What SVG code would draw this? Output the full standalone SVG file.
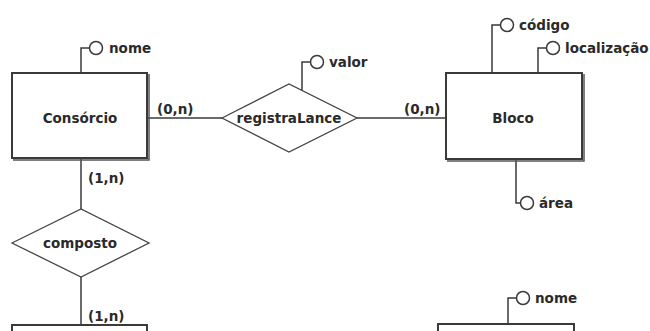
<svg xmlns="http://www.w3.org/2000/svg" width="650" height="331" viewBox="0 0 650 331">
<style>
.ent{fill:#fff;stroke:#3a3a3a;stroke-width:2}
.sh{fill:none;stroke:#555;stroke-width:1.5}
.rel{fill:#fff;stroke:#444;stroke-width:1.3}
.ln{fill:none;stroke:#3a3a3a;stroke-width:1.5}
.at{fill:#fff;stroke:#3a3a3a;stroke-width:1.5}
text{font-family:"DejaVu Sans",Verdana,sans-serif;font-weight:bold;font-size:13.5px;fill:#2a2a2a}
.c{text-anchor:middle}
</style>
<rect width="650" height="331" fill="#fff"/>
<g id="connectors">
<line class="ln" x1="147" y1="118" x2="222" y2="118"/>
<line class="ln" x1="357" y1="118" x2="446" y2="118"/>
<line class="ln" x1="81" y1="158" x2="81" y2="209"/>
<line class="ln" x1="81" y1="277" x2="81" y2="325"/>
<text x="157" y="114">(0,n)</text>
<text x="404" y="114">(0,n)</text>
<text x="88" y="183">(1,n)</text>
<text x="88" y="321">(1,n)</text>
</g>
<g id="consorcio">
<polyline class="ln" points="81,73 81,48 89,48"/>
<circle class="at" cx="96" cy="48" r="6.5"/>
<text x="109" y="53">nome</text>
<rect class="ent" x="12" y="73" width="135" height="85"/>
<polyline class="sh" points="13,160 149,160 149,74"/>
<text class="c" x="80" y="123">Consórcio</text>
</g>
<g id="registraLance">
<polyline class="ln" points="302,91 302,62 310,62"/>
<circle class="at" cx="317" cy="62" r="6.5"/>
<text x="329" y="67">valor</text>
<polygon class="rel" points="222,118 289,84 357,118 289,152"/>
<text class="c" x="289" y="123">registraLance</text>
</g>
<g id="bloco">
<polyline class="ln" points="492,73 492,25 500,25"/>
<circle class="at" cx="507" cy="25" r="6.5"/>
<text x="519" y="30">código</text>
<polyline class="ln" points="538,73 538,48 546,48"/>
<circle class="at" cx="553" cy="48" r="6.5"/>
<text x="565" y="53">localização</text>
<polyline class="ln" points="516,159 516,203 520,203"/>
<circle class="at" cx="527" cy="203" r="6.5"/>
<text x="539" y="208">área</text>
<rect class="ent" x="446" y="73" width="136" height="86"/>
<polyline class="sh" points="447,161 584,161 584,74"/>
<text class="c" x="513" y="123">Bloco</text>
</g>
<g id="composto">
<polygon class="rel" points="12,243 81,209 149,243 81,277"/>
<text class="c" x="80" y="248">composto</text>
</g>
<g id="entidade-inferior-esquerda">
<rect class="ent" x="12" y="325" width="135" height="20"/>
</g>
<g id="entidade-inferior-direita">
<polyline class="ln" points="508,324 508,298 516,298"/>
<circle class="at" cx="523" cy="298" r="6.5"/>
<text x="535" y="303">nome</text>
<rect class="ent" x="438" y="324" width="136" height="20"/>
</g>
</svg>
